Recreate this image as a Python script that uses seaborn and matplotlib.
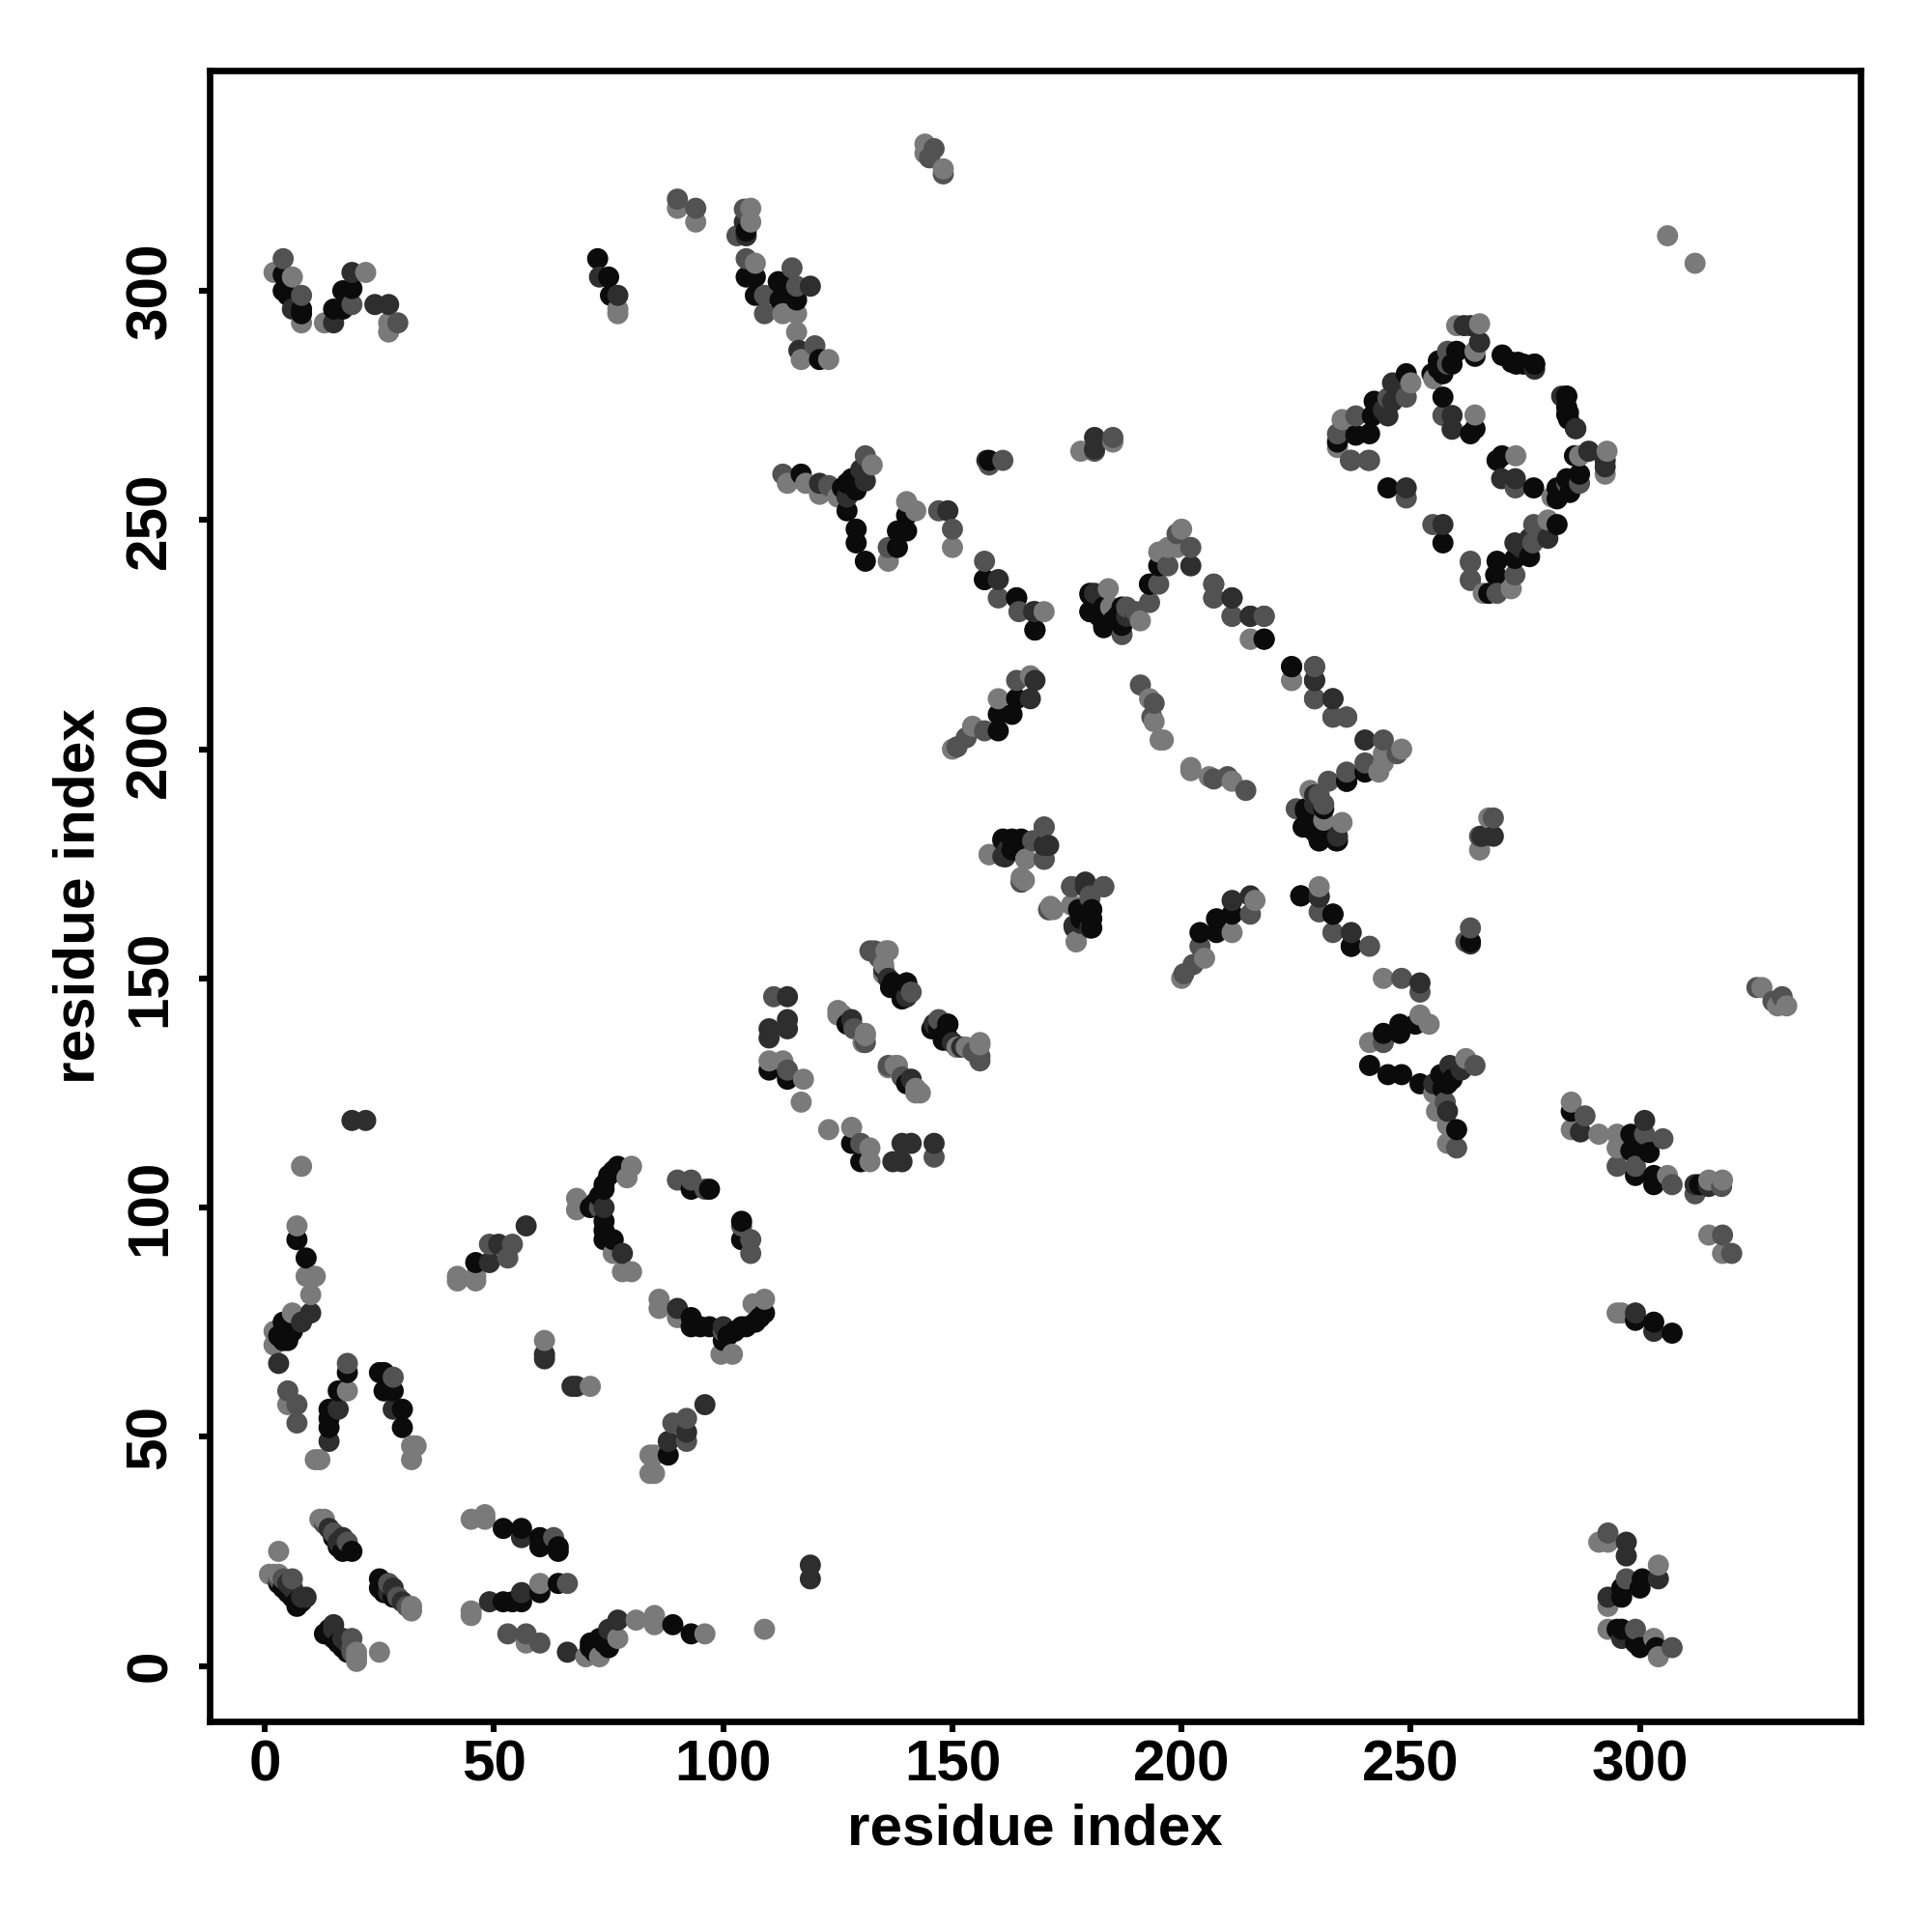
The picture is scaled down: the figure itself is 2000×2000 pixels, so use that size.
import pandas as pd
import matplotlib.pyplot as plt
import seaborn as sns

black = [
    (9,89),(7,93),(4,75),(5,74),(6,73),(5,71),(3,72),(4,71),(14,52),(14,54),(14,56),(16,60),(18,64),(25,64),(26,64),(26,60),(28,60),(30,56),(30,52),
    (16,26),(17,25),(19,25),(18,26),(15,28),(3,18),(4,17),(5,16),(6,15),(7,13),(7,14),(8,14),
    (46,88),(71,100),(72,101),(73,102.5),(74,104),(74,105),(75,107),(76,108),(77,109),
    (74,97),(74,95),(74,93),(76,93),(93,104),(97,104),(110,130),(114,128),(136.5,148),(137,149),(140,149),(139,145.5),(140,146),
    (147,139),(149,140),(146,139),(148,137.5),(149,137),
    (140,127),(160,204),(160,207.6),(163,207.6),(164,211),(161,180.4),(163,180.4),(165,180.4),(180,165),(177.5,165),(178,163),
    (131,241),(138,244),(138,247.6),(140,247.6),(140,251),(157,237),(164,233),(168,226),(117,260),(127,252),(129,248),
    (129,245),(126,257),(127,258),(128,259),(129,256.5),(158,263),(180,233.7),(180,230),(183,231),(183,226.5),(187,227),(186,229),
    (193,236),(195,240),(215,229),(218,224),(224,218),(236,193),(227,186.5),(227,183),(228,185),(229,182),(231,187),(231,184),(230,180),(234,180),
    (226,168),(233,164),(237,157),
    (105,313),(105,303),(107,303),(107,299),(112,302),(112.4,298),(113,301),(116,298),(121,285),(72.6,307),(75,303),(75.4,299),
    (4,303.5),(4,300),(5,299),(8,296),(8,295),(15,296),(17,296),(17,300),(19,300.5),
    (264,285.7),(260,286.8),(256,284.7),(259,284),(254.6,281.9),(256,283),(257,281.9),(249,281.9),(242,275.9),(241.6,272.7),(241,268.8),
    (238,268.5),(234,267),(257,276.8),(264,269.9),(263,268.8),(270,285.9),(273,284),(274.6,284),(277,284),(284,277),(284.4,273.4),
    (284.4,272),(245,257),
]
dark = [
    (19,119),(3,66),(10,77),(8,75),(14,49),(16,56),(28,56),(17,28),(14,30),(16,27),(5,18),(6,17),(9,15),(8,15),
    (49,88),(51,92),(57,96),(61,68),(61,67),(74,100),(78,90),(110,139),(110,137),(114,141),(114,139),(114,146),(22,119),
    (128,141),(146,140),(135,152),(151,135),(150,136),(167,211),(168,215),(161,176.6),(162,178),(170,179),(179,171),(176.5,161.5),(180,161),
    (149,252),(160,237),(168,230),(121,258),(130,261),(127,255),(131,258.5),(157.5,263),(181,268),(181,265.5),(190,229),
    (202,240),(211,233),(218,229),(229,215),(233,211),(230,167.7),(234,181),(229,188),
    (104.6,315),(105,312),(116.5,287),(119,301),(73,303),(77,299),(6,296),(15,293),(19,304),(24,297),(27,297),
    (265,288.8),(261.6,292.4),(263,292.4),(246,279.9),(246,275.9),(245,272.7),(259,272.8),(259,269.8),(286,269.9),(277,282.9),(244,274),
    (249,257),
]
medium = [
    (5,60),(7,57),(7,53),(18,66),(28,63),(15,29),(13,31),(18,27),(6,19),(4,19),(3,19),(53,89),(54,92),(49,92),
    (111,146),(114,130),(128.5,139),(131,136),(132,156),(134,154.5),(141,147),(156,133),(151,200.5),(153,202.5),(157,204),(164,215),(170,183),(167.5,180),
    (170,176),(165,171),(171,165),(176,170),(183,170),(180,168),(136,244),(147,252),(150,248),(157,241),(160,233),(164.5,230),
    (113,260),(123,257.5),(131,264),(158,262),(161,263),(181,265),(185,268),(187,225),(188,231),(193,232),(195,236),(197,240),(202,244),
    (199,247),(207,236),(207,233),(211,229),(229,218),(229,211),(233,207),(236,207),(191,214),(194,210),(193.5,207),
    (146,331),(145,329),(148,325.5),(90,320),(94,318),(104.6,317.8),(103,312),(105,307),(109,299),(109,295),(115,305),(116,301),
    (120,288),(4,307),(8,299),(19,297),(29,293),(258,286.8),(258,284),(249,276.8),(245,276.6),(238,272.7),(234,268.8),
    (257,272.8),(90,106),(93,106),(96,104),(73,100),(230,190),(237,263),(241,263),(249,254.8),(240.7,263),(236.8,263),
]
light = [
    (8,109),(7,96),(9,85),(11,85),(10,81),(6,77),(2,73),(2,70),(5,57),(11,45),(12,45),(18,60),(32,48),(33,48),(32,45),
    (12,32),(13,32),(1,20),(2,20),(3,20),(3,25),(42,85),(42,84),(46,84),(46,85),(61,71),(68,102),(68,99.5),(79,106.5),(80,109),
    (78,86),(80,86),(76,90),(110,132),(113,132),(117.5,128),(117,123),(125,143),(126,142),(131,138),(137.5,131),(136,130.5),(142,125),(135.5,156),(135,151),
    (153,135),(156,136),(150,200),(154.4,205),(160,211),(167,216),(158,177),(166,176),(165.7,171.4),(172,165),(176,166),(177,158),
    (136,241),(142,252),(140,254),(150,244),(170,230),(114,258),(118,258),(121,255.6),(125,255),(132.5,262),(178,265),(185,267),
    (184,235),(184.5,231),(191,228),(195,243),(197,244),(199,244),(200,248),(215,224),(224,215),(193,211),(194,206),(195.3,202),
    (196,202),(144,332),(144,330),(148,326.6),(90,318),(94,315),
    (106,318),(106,315),(107,306),(113,295),(116,295),(116,291),(117,285),(123,285),(77,296),(77,295),(2,304),(6,303),(8,293),(13,293),
    (22,304),(27,293),(27,291),(260,292.4),(265,292.8),(264,286.8),(255,280.8),(250,279.9),(235,271.9),(234,265.8),(264,272.9),(306,312),
]
ticks = [0, 50, 100, 150, 200, 250, 300]
shades = {"black": "#0b0b0b", "dark": "#2e2e2e", "medium": "#525252", "light": "#7a7a7a"}

rows = []
for name, pairs in [("black", black), ("dark", dark), ("medium", medium), ("light", light)]:
    for i, j in pairs:
        rows.append((i, j, name))
        rows.append((j, i, name))
df = pd.DataFrame(rows, columns=["i", "j", "shade"]).sort_values(["i", "j"])

sns.set_theme(style="white")
plt.rcParams["font.family"] = ["Liberation Sans", "DejaVu Sans"]
plt.rcParams["font.weight"] = "bold"

fig = plt.figure(figsize=(10, 10), dpi=200)
ax = fig.add_axes([0.1085, 0.109, 0.8545, 0.8545])

sns.scatterplot(data=df, x="i", y="j", hue="shade", palette=shades, s=62, linewidth=0,
                legend=False, ax=ax)

ax.set_xlim(-12.05, 348.1)
ax.set_ylim(-12.1, 348.05)
ax.set_xticks(ticks)
ax.set_yticks(ticks)
ax.tick_params(axis="both", length=4, width=2.2, color="black", labelcolor="black", labelsize=21.7, left=True, bottom=True)
ax.tick_params(axis="x", pad=2.5)
ax.tick_params(axis="y", pad=8)
plt.setp(ax.get_yticklabels(), rotation=90, va="center")
for side in ax.spines.values():
    side.set_linewidth(2.4)
    side.set_color("black")

ax.set_xlabel("residue index", fontsize=21.7, fontweight="bold", color="black", labelpad=4)
ax.set_ylabel("residue index", fontsize=21.7, fontweight="bold", color="black", labelpad=7)

plt.savefig("out.png", dpi=200)
